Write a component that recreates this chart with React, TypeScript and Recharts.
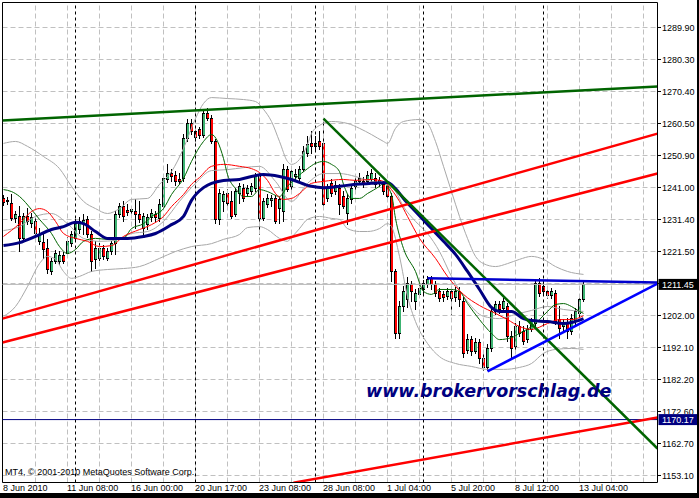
import React from 'react';
import { ComposedChart, Bar, Line, XAxis, YAxis, CartesianGrid, ReferenceLine } from 'recharts';

// XAUUSD-style H4 bars, bar 0 = 8 Jun 2010
const OPEN = [
  1237.7, 1237.1, 1236.2, 1231.6, 1232.2, 1225.5, 1232.2, 1230.0, 1230.7, 1224.6,
  1224.2, 1222.4, 1215.4, 1218.4, 1218.4, 1220.3, 1220.9, 1223.9, 1225.5, 1228.2,
  1230.0, 1231.3, 1226.7, 1219.1, 1219.4, 1222.4, 1219.4, 1221.5, 1223.9, 1232.8,
  1235.2, 1234.0, 1233.7, 1233.7, 1232.8, 1228.5, 1229.7, 1231.9, 1232.8, 1231.6,
  1235.2, 1243.5, 1245.3, 1244.7, 1243.5, 1243.8, 1256.0, 1260.6, 1258.1, 1258.8,
  1256.9, 1263.6, 1262.1, 1255.1, 1231.3, 1236.8, 1239.2, 1236.8, 1232.8, 1239.2,
  1240.7, 1239.2, 1239.8, 1240.7, 1244.4, 1231.6, 1235.9, 1237.1, 1237.7, 1234.6,
  1233.7, 1246.5, 1241.4, 1244.4, 1243.8, 1246.5, 1251.4, 1254.5, 1253.6, 1255.1,
  1254.5, 1237.7, 1242.3, 1239.8, 1240.7, 1238.3, 1233.1, 1237.4, 1241.4, 1242.9,
  1242.9, 1242.9, 1243.5, 1243.8, 1242.3, 1242.0, 1241.4, 1238.3, 1215.4, 1196.5,
  1204.7, 1206.8, 1211.4, 1206.2, 1208.4, 1209.9, 1211.4, 1213.3, 1211.4, 1209.3,
  1208.4, 1207.8, 1209.3, 1207.5, 1209.3, 1206.2, 1191.3, 1194.6, 1191.0, 1193.7,
  1188.8, 1186.1, 1191.9, 1203.2, 1205.3, 1204.1, 1204.7, 1195.5, 1192.5, 1198.6,
  1197.1, 1194.6, 1197.7, 1199.5, 1211.7, 1210.8, 1209.3, 1208.1, 1208.7, 1200.7,
  1198.6, 1199.5, 1197.1, 1200.1, 1202.6, 1206.8,
];
const HIGH = [
  1238.6, 1238.0, 1238.9, 1233.7, 1235.2, 1233.1, 1234.6, 1233.1, 1232.2, 1228.5,
  1226.7, 1225.2, 1219.4, 1221.8, 1221.5, 1221.2, 1225.8, 1227.6, 1231.3, 1231.9,
  1232.8, 1232.2, 1227.6, 1224.6, 1223.9, 1223.3, 1222.4, 1224.6, 1233.7, 1236.2,
  1236.8, 1235.9, 1235.2, 1237.4, 1236.8, 1233.1, 1232.8, 1234.3, 1233.7, 1237.4,
  1245.0, 1248.1, 1246.5, 1245.9, 1245.3, 1257.2, 1261.8, 1261.8, 1259.4, 1259.4,
  1264.9, 1265.2, 1263.0, 1255.7, 1240.4, 1239.8, 1240.4, 1239.8, 1240.7, 1242.3,
  1242.0, 1241.7, 1242.3, 1245.3, 1245.3, 1237.7, 1238.9, 1238.6, 1238.6, 1238.0,
  1248.1, 1247.5, 1247.5, 1246.5, 1247.5, 1253.6, 1256.6, 1258.1, 1256.6, 1258.1,
  1262.1, 1242.0, 1243.5, 1242.9, 1242.0, 1239.8, 1238.9, 1241.7, 1243.8, 1245.3,
  1244.1, 1245.9, 1246.5, 1245.3, 1244.1, 1242.9, 1242.3, 1239.2, 1216.0, 1206.2,
  1210.8, 1213.6, 1212.3, 1209.9, 1211.4, 1212.6, 1213.9, 1213.9, 1212.3, 1210.2,
  1209.3, 1210.2, 1210.2, 1210.5, 1210.5, 1207.5, 1196.2, 1195.5, 1194.9, 1194.6,
  1190.4, 1193.1, 1204.7, 1206.2, 1206.2, 1207.2, 1205.6, 1197.1, 1199.5, 1200.1,
  1198.6, 1198.9, 1201.0, 1212.9, 1213.3, 1212.3, 1210.5, 1210.2, 1209.6, 1204.7,
  1200.7, 1201.0, 1202.3, 1204.1, 1207.8, 1212.3,
];
const LOW = [
  1235.5, 1235.9, 1231.0, 1230.4, 1221.5, 1224.6, 1229.7, 1228.8, 1225.2, 1223.6,
  1219.4, 1214.8, 1214.5, 1217.8, 1217.5, 1217.8, 1220.0, 1223.0, 1224.6, 1227.0,
  1226.7, 1225.8, 1215.4, 1216.3, 1218.8, 1219.1, 1218.8, 1220.6, 1220.6, 1231.9,
  1230.7, 1232.5, 1232.8, 1228.5, 1230.4, 1226.1, 1228.2, 1230.7, 1230.7, 1230.7,
  1234.6, 1242.6, 1242.9, 1241.7, 1242.3, 1242.9, 1255.1, 1257.2, 1255.1, 1256.0,
  1256.3, 1261.5, 1254.5, 1230.0, 1229.7, 1233.7, 1234.6, 1231.6, 1232.2, 1236.2,
  1236.8, 1238.3, 1238.9, 1239.8, 1226.7, 1231.0, 1234.9, 1235.2, 1230.0, 1230.0,
  1230.7, 1239.8, 1239.8, 1242.9, 1242.9, 1245.9, 1250.5, 1251.4, 1252.6, 1252.6,
  1234.6, 1236.8, 1238.3, 1238.9, 1232.8, 1234.6, 1229.7, 1236.2, 1240.4, 1242.0,
  1241.0, 1242.0, 1242.9, 1241.0, 1241.4, 1238.9, 1237.7, 1212.3, 1194.9, 1194.9,
  1203.2, 1204.4, 1206.2, 1203.8, 1207.5, 1208.7, 1210.5, 1209.9, 1207.8, 1206.2,
  1206.2, 1206.8, 1202.3, 1206.2, 1204.7, 1189.1, 1190.4, 1189.7, 1190.4, 1187.3,
  1185.2, 1185.2, 1191.0, 1202.3, 1202.6, 1203.2, 1194.0, 1188.8, 1191.6, 1195.5,
  1193.1, 1193.7, 1197.1, 1198.3, 1207.8, 1208.4, 1207.2, 1207.2, 1199.2, 1194.9,
  1197.1, 1194.9, 1196.2, 1198.6, 1201.3, 1206.2,
];
const CLOSE = [
  1236.5, 1236.8, 1231.6, 1232.8, 1225.5, 1232.2, 1230.7, 1231.9, 1227.0, 1226.7,
  1222.1, 1216.0, 1218.4, 1220.9, 1220.3, 1218.4, 1224.6, 1226.7, 1230.0, 1230.7,
  1231.0, 1226.7, 1218.4, 1222.4, 1222.4, 1220.0, 1221.5, 1223.9, 1232.8, 1235.2,
  1232.2, 1233.4, 1234.3, 1232.8, 1231.3, 1232.2, 1231.9, 1233.1, 1231.9, 1235.9,
  1243.8, 1245.3, 1244.4, 1242.9, 1242.9, 1256.0, 1260.6, 1258.1, 1256.3, 1256.9,
  1263.6, 1262.1, 1255.1, 1231.3, 1239.2, 1238.9, 1236.2, 1232.2, 1239.8, 1241.4,
  1237.7, 1240.7, 1241.4, 1244.4, 1231.6, 1236.8, 1237.7, 1237.7, 1230.7, 1237.4,
  1246.5, 1240.4, 1245.9, 1245.0, 1246.5, 1252.0, 1254.2, 1253.6, 1254.5, 1253.6,
  1235.9, 1240.7, 1239.2, 1241.7, 1235.9, 1235.2, 1237.7, 1240.7, 1242.9, 1243.8,
  1242.0, 1244.7, 1245.3, 1242.0, 1243.2, 1239.8, 1238.3, 1215.4, 1196.5, 1204.7,
  1209.3, 1211.7, 1209.3, 1208.7, 1210.2, 1211.7, 1212.9, 1211.4, 1208.7, 1207.2,
  1207.5, 1209.3, 1207.2, 1209.3, 1206.8, 1190.4, 1194.6, 1191.0, 1193.7, 1188.8,
  1186.1, 1191.9, 1203.2, 1205.3, 1203.8, 1206.2, 1195.5, 1191.9, 1198.6, 1196.5,
  1194.0, 1197.7, 1200.1, 1211.7, 1208.7, 1209.3, 1208.1, 1209.3, 1200.1, 1198.0,
  1199.5, 1197.1, 1201.0, 1203.2, 1206.8, 1211.4,
];

// indicator readings [bar, price]
const MA_FAST: [number, number][] = [
  [0, 1240.4], [2, 1239.8], [4, 1238.3], [7, 1234.3], [9, 1231.3], [12, 1227.0], [14, 1223.0],
  [16, 1220.9], [18, 1222.1], [20, 1224.6], [23, 1225.5], [26, 1225.2], [30, 1225.5], [32, 1228.5],
  [35, 1230.0], [37, 1232.2], [40, 1234.6], [42, 1238.9], [45, 1243.8], [47, 1249.0], [50, 1255.1],
  [52, 1257.2], [55, 1249.9], [56, 1245.0], [58, 1240.7], [60, 1238.3], [62, 1238.3], [64, 1240.4],
  [66, 1239.8], [69, 1238.3], [71, 1241.4], [73, 1243.8], [76, 1246.8], [78, 1248.4], [80, 1249.0],
  [82, 1248.1], [84, 1245.9], [85, 1242.0], [87, 1237.7], [89, 1237.7], [91, 1239.2], [94, 1241.4],
  [95, 1242.3], [97, 1238.9], [98, 1231.6], [100, 1222.4], [103, 1215.4], [105, 1209.3], [107, 1208.4],
  [109, 1209.9], [112, 1209.9], [114, 1209.3], [116, 1205.6], [119, 1200.7], [122, 1196.5], [124, 1194.6],
  [127, 1195.2], [129, 1196.5], [132, 1198.6], [134, 1200.7], [136, 1203.2], [138, 1205.3], [140, 1205.6],
  [142, 1204.7], [144, 1203.2], [145, 1202.6],
];
const MA_MID: [number, number][] = [
  [0, 1226.1], [4, 1230.0], [7, 1233.7], [9, 1234.6], [11, 1233.7], [13, 1230.7], [15, 1227.0],
  [18, 1225.5], [21, 1224.6], [24, 1223.0], [27, 1223.3], [30, 1226.1], [34, 1228.2], [37, 1229.7],
  [40, 1232.2], [42, 1235.2], [45, 1238.9], [47, 1242.0], [49, 1244.1], [52, 1247.5], [55, 1248.1],
  [59, 1247.5], [62, 1246.8], [64, 1245.6], [66, 1243.2], [68, 1239.2], [70, 1237.4], [72, 1237.7],
  [74, 1239.2], [77, 1242.3], [80, 1242.9], [85, 1243.5], [88, 1243.2], [92, 1243.5], [95, 1242.9],
  [97, 1240.4], [99, 1236.8], [101, 1232.2], [104, 1225.5], [108, 1219.4], [111, 1213.9], [115, 1208.4],
  [119, 1205.0], [123, 1202.6], [126, 1200.7], [129, 1198.6], [132, 1197.7], [136, 1199.5], [139, 1200.7],
  [142, 1200.7], [145, 1201.9],
];
const MA_SLOW: [number, number][] = [
  [0, 1223.3], [4, 1224.2], [8, 1226.1], [12, 1228.2], [15, 1229.1], [18, 1230.4], [20, 1230.0],
  [23, 1227.6], [26, 1225.5], [31, 1225.5], [35, 1226.1], [38, 1227.0], [42, 1229.7], [45, 1232.2],
  [47, 1237.1], [50, 1241.0], [52, 1242.3], [55, 1243.2], [59, 1243.5], [62, 1244.4], [65, 1245.0],
  [69, 1244.4], [72, 1243.5], [77, 1241.4], [80, 1241.0], [84, 1241.4], [88, 1242.0], [92, 1242.3],
  [96, 1242.6], [98, 1240.7], [100, 1237.7], [103, 1233.7], [107, 1228.5], [110, 1224.6], [113, 1220.6],
  [116, 1215.4], [119, 1209.9], [122, 1204.4], [124, 1203.2], [127, 1203.2], [130, 1201.0], [132, 1200.4],
  [136, 1200.1], [140, 1199.5], [142, 1199.8], [145, 1201.0],
];
const BB_UP: [number, number][] = [
  [0, 1254.5], [3, 1255.1], [6, 1253.6], [10, 1250.5], [14, 1246.8], [17, 1241.4], [20, 1236.8],
  [23, 1234.6], [26, 1233.1], [29, 1234.6], [32, 1237.4], [36, 1237.7], [39, 1242.0], [42, 1245.9],
  [45, 1253.0], [48, 1262.1], [50, 1266.7], [52, 1268.5], [56, 1268.2], [60, 1267.9], [63, 1267.3],
  [65, 1264.9], [67, 1261.2], [69, 1255.1], [71, 1249.0], [72, 1248.1], [74, 1249.6], [76, 1254.2],
  [77, 1257.5], [79, 1260.0], [82, 1261.2], [86, 1260.6], [89, 1259.1], [92, 1257.2], [95, 1255.1],
  [96, 1254.5], [98, 1259.1], [100, 1261.2], [104, 1261.8], [106, 1260.6], [108, 1255.1], [110, 1247.5],
  [112, 1239.8], [114, 1232.2], [116, 1225.5], [118, 1220.0], [120, 1217.8], [123, 1216.9], [126, 1217.8],
  [129, 1219.1], [132, 1220.0], [135, 1219.1], [138, 1216.9], [141, 1215.4], [145, 1214.5],
];
const BB_MID: [number, number][] = [
  [0, 1227.9], [4, 1229.1], [8, 1232.2], [12, 1233.1], [16, 1230.0], [20, 1225.5], [24, 1224.6],
  [28, 1224.9], [32, 1227.0], [36, 1227.6], [40, 1230.7], [44, 1236.8], [48, 1242.3], [52, 1246.2],
  [56, 1246.5], [60, 1247.1], [64, 1247.5], [68, 1242.9], [72, 1236.8], [76, 1242.3], [80, 1245.3],
  [84, 1245.3], [88, 1244.4], [92, 1242.9], [96, 1242.3], [98, 1239.8], [100, 1235.2], [103, 1230.7],
  [106, 1227.0], [109, 1221.5], [112, 1213.9], [116, 1206.2], [120, 1201.7], [124, 1201.0], [128, 1202.3],
  [132, 1203.5], [136, 1204.7], [140, 1203.8], [145, 1203.2],
];
const BB_LOW: [number, number][] = [
  [0, 1201.7], [3, 1204.7], [6, 1210.8], [9, 1217.8], [11, 1220.0], [13, 1219.1], [15, 1215.4],
  [17, 1213.3], [19, 1213.9], [22, 1215.4], [26, 1216.0], [30, 1216.3], [34, 1216.9], [39, 1219.4],
  [43, 1221.5], [47, 1223.0], [52, 1223.9], [55, 1225.2], [59, 1226.7], [61, 1228.8], [64, 1229.1],
  [66, 1228.2], [69, 1225.5], [71, 1224.6], [72, 1225.8], [74, 1228.5], [76, 1231.3], [79, 1232.2],
  [82, 1231.6], [84, 1231.3], [86, 1228.5], [89, 1227.6], [91, 1227.6], [94, 1228.5], [96, 1230.0],
  [97, 1229.1], [99, 1220.0], [101, 1207.8], [103, 1200.1], [106, 1193.4], [109, 1189.4], [113, 1187.3],
  [117, 1186.4], [121, 1185.5], [125, 1185.5], [129, 1186.1], [132, 1187.3], [135, 1190.4], [138, 1191.6],
  [142, 1191.9], [145, 1191.6],
];

// drawn objects, [bar, price] end points
const TREND_TOP: [number, number][] = [[-0.25, 1261.5], [163.5, 1271.9]];
const CHANNEL_HI: [number, number][] = [[-0.25, 1201.0], [163.5, 1257.5]];
const CHANNEL_LO: [number, number][] = [[-0.25, 1193.7], [163.5, 1245.3]];
const RED_BOTTOM: [number, number][] = [[72.5, 1150.9], [163.5, 1170.8]];
const TREND_DOWN: [number, number][] = [[80, 1262.1], [163.5, 1161.3]];
const TRI_TOP: [number, number][] = [[106, 1213.3], [163.5, 1212.0]];
const TRI_LOW: [number, number][] = [[121, 1184.9], [163.5, 1211.7]];
const BID = 1211.45;
const HLINE = 1170.17;

const X_LABELS = ['8 Jun 2010', '11 Jun 08:00', '16 Jun 00:00', '20 Jun 17:00', '23 Jun 08:00',
  '28 Jun 08:00', '1 Jul 04:00', '5 Jul 20:00', '8 Jul 12:00', '13 Jul 04:00'];
const X_LABEL_BARS = [0, 16, 32, 48, 64, 80, 96, 112, 128, 144];
const X_GRID_BARS = [8, 16, 24, 32, 40, 48, 56, 64, 72, 80, 88, 96, 104, 112, 120, 128, 136, 144, 152, 160];
const SEPARATOR_BARS = [18, 48, 78, 105, 135];
const Y_LABELS = ['1289.90', '1280.30', '1270.40', '1260.50', '1250.90', '1241.00', '1231.40', '1221.50',
  '1211.60', '1202.00', '1192.10', '1182.20', '1172.60', '1162.70', '1153.10'];

const X_MIN = -0.25;
const X_MAX = 163.5;
const Y_MIN = 1150.96;
const Y_MAX = 1297.53;
const Y_TICKS = Y_LABELS.map((_, k) => 1289.9 - (k * (1289.9 - 1153.1)) / (Y_LABELS.length - 1));
const PLOT_H = 480;
const PX_PER_UNIT = PLOT_H / (Y_MAX - Y_MIN);
const TAG_PRICES = [BID, HLINE];

const FONT = '"Liberation Sans", Arial, sans-serif';
const BULL = '#3cb371';
const BEAR = '#ff0000';

const rows: any[] = OPEN.map((o, i) => ({ i, open: o, high: HIGH[i], low: LOW[i], close: CLOSE[i] }));
const attach = (pts: [number, number][], key: string) => pts.forEach(([i, v]) => { rows[i][key] = v; });
attach(MA_FAST, 'fast');
attach(MA_MID, 'mid');
attach(MA_SLOW, 'slow');
attach(BB_UP, 'bbUp');
attach(BB_MID, 'bbMid');
attach(BB_LOW, 'bbLow');

function Candle(props: any) {
  const { x, y, width, height, payload } = props;
  if (!payload || height == null || isNaN(y)) return null;
  const top = Math.min(y, y + height);
  const h = Math.abs(height);
  const range = payload.high - payload.low;
  const k = range > 0 ? h / range : 0;
  const py = (v: number) => top + (payload.high - v) * k;
  const cx = Math.round(x + width / 2 - 0.5) + 0.5;
  const yo = py(payload.open);
  const yc = py(payload.close);
  const bTop = Math.floor(Math.min(yo, yc));
  const bBot = Math.max(Math.floor(Math.max(yo, yc)) + 1, bTop + 1);
  const wTop = Math.floor(top);
  const wBot = Math.floor(top + h) + 1;
  const up = payload.close >= payload.open;
  return (
    <g shapeRendering="crispEdges">
      <rect x={cx - 0.5} y={wTop} width={1} height={wBot - wTop} fill="#000" />
      <rect x={cx - 1.5} y={bTop} width={3} height={bBot - bTop} fill="#000" />
      {bBot - bTop > 2 && (
        <rect x={cx - 0.5} y={bTop + 1} width={2} height={bBot - bTop - 2} fill={up ? BULL : BEAR} />
      )}
    </g>
  );
}

function XTick(props: any) {
  const { x, y, payload } = props;
  const k = X_LABEL_BARS.indexOf(payload.value);
  if (k < 0) return null;
  return (
    <text x={x - 0.5} y={y + 8.5} fontSize={9} fontFamily={FONT} fill="#000" textAnchor="start">
      {X_LABELS[k]}
    </text>
  );
}

// axis labels sit under the price tags, so cut them where a tag covers them
function YTick(props: any) {
  const { x, y, index, payload } = props;
  let clipTop = y - 10;
  let clipBot = y + 10;
  TAG_PRICES.forEach((p) => {
    const ty = y + (payload.value - p) * PX_PER_UNIT;
    if (Math.abs(ty - y) < 11) {
      if (ty >= y) clipBot = Math.min(clipBot, ty - 5.5);
      else clipTop = Math.max(clipTop, ty + 5.5);
    }
  });
  const id = 'yclip' + index;
  return (
    <g>
      <line x1={x} x2={x + 3.5} y1={y} y2={y} stroke="#000" />
      <clipPath id={id}>
        <rect x={x} y={clipTop} width={40} height={Math.max(0, clipBot - clipTop)} />
      </clipPath>
      <text x={x + 4.5} y={y + 3.3} fontSize={9} fontFamily={FONT} fill="#000" clipPath={`url(#${id})`}>
        {Y_LABELS[index]}
      </text>
    </g>
  );
}

function PriceTag(props: any) {
  const { viewBox, text, bg } = props;
  if (!viewBox) return null;
  const x = viewBox.x + viewBox.width;
  const y = viewBox.y;
  return (
    <g>
      <rect x={x + 1} y={y - 5.5} width={40} height={11} fill={bg} />
      <text x={x + 4.5} y={y + 3.3} fontSize={9} fontFamily={FONT} fill="#fff">{text}</text>
    </g>
  );
}

const seg = (p: [number, number][]) => p.map(([x, y]) => ({ x, y }));

export default function App() {
  return (
    <div style={{ position: 'relative', width: 699, height: 498, background: '#000', overflow: 'hidden' }}>
      <style>{'body{margin:0}'}</style>
      <div style={{ position: 'absolute', left: 0, top: 0, width: 697, height: 493, background: '#fff' }}>
        <ComposedChart width={697} height={493} data={rows} margin={{ top: 2.5, right: 0, bottom: 0, left: 2.5 }}>
          <CartesianGrid stroke="#c0c0c0" strokeDasharray="5 3" vertical={false} />
          <XAxis
            type="number"
            dataKey="i"
            domain={[X_MIN, X_MAX]}
            ticks={X_LABEL_BARS}
            interval={0}
            allowDataOverflow
            height={10.5}
            tickSize={0}
            tickMargin={0}
            tickLine={false}
            axisLine={{ stroke: '#000' }}
            tick={<XTick />}
          />
          <YAxis
            type="number"
            orientation="right"
            domain={[Y_MIN, Y_MAX]}
            ticks={Y_TICKS}
            interval={0}
            allowDataOverflow
            width={39.5}
            tickSize={0}
            tickMargin={0}
            tickLine={false}
            axisLine={{ stroke: '#000' }}
            tick={<YTick />}
          />
          {X_GRID_BARS.map((b) => (
            <ReferenceLine key={'grid' + b} x={b} stroke="#c0c0c0" strokeDasharray="5 3" />
          ))}
          <ReferenceLine x={X_MIN} stroke="#000" ifOverflow="visible" />
          <ReferenceLine y={Y_MAX} stroke="#000" ifOverflow="visible" />
          {SEPARATOR_BARS.map((b) => (
            <ReferenceLine key={'sep' + b} x={b} stroke="#000" strokeDasharray="3 3" />
          ))}
          <Bar dataKey={(d: any) => [d.low, d.high]} barSize={3} shape={<Candle />} isAnimationActive={false} />
          <Line dataKey="bbUp" stroke="#a8a8a8" strokeWidth={1} dot={false} activeDot={false} connectNulls type="monotone" isAnimationActive={false} />
          <Line dataKey="bbMid" stroke="#a8a8a8" strokeWidth={1} dot={false} activeDot={false} connectNulls type="monotone" isAnimationActive={false} />
          <Line dataKey="bbLow" stroke="#a8a8a8" strokeWidth={1} dot={false} activeDot={false} connectNulls type="monotone" isAnimationActive={false} />
          <Line dataKey="fast" stroke="#006400" strokeWidth={1} dot={false} activeDot={false} connectNulls type="monotone" isAnimationActive={false} />
          <Line dataKey="mid" stroke="#ff0000" strokeWidth={1} dot={false} activeDot={false} connectNulls type="monotone" isAnimationActive={false} />
          <Line dataKey="slow" stroke="#000080" strokeWidth={3} dot={false} activeDot={false} connectNulls type="monotone" isAnimationActive={false} />
          <ReferenceLine y={BID} stroke="#b8b8b8" ifOverflow="visible" label={<PriceTag text="1211.45" bg="#000" />} />
          <ReferenceLine y={HLINE} stroke="#000080" ifOverflow="visible" label={<PriceTag text="1170.17" bg="#000080" />} />
          <ReferenceLine segment={seg(TREND_TOP)} stroke="#006400" strokeWidth={2.5} ifOverflow="hidden" />
          <ReferenceLine segment={seg(CHANNEL_HI)} stroke="#ff0000" strokeWidth={2.5} ifOverflow="hidden" />
          <ReferenceLine segment={seg(CHANNEL_LO)} stroke="#ff0000" strokeWidth={2.5} ifOverflow="hidden" />
          <ReferenceLine segment={seg(RED_BOTTOM)} stroke="#ff0000" strokeWidth={2.5} ifOverflow="hidden" />
          <ReferenceLine segment={seg(TREND_DOWN)} stroke="#006400" strokeWidth={2.5} ifOverflow="hidden" />
          <ReferenceLine segment={seg(TRI_TOP)} stroke="#0000cd" strokeWidth={2.5} ifOverflow="hidden" />
          <ReferenceLine segment={seg(TRI_LOW)} stroke="#0000ff" strokeWidth={2.5} ifOverflow="hidden" />
        </ComposedChart>
      </div>
      <svg width={699} height={498} style={{ position: 'absolute', left: 0, top: 0, pointerEvents: 'none' }}>
        <text x={5} y={475} fontSize={9} fontFamily={FONT} fill="#000">MT4, © 2001-2010 MetaQuotes Software Corp.</text>
        <text x={366} y={397} fontSize={17.5} fontFamily='"DejaVu Sans", sans-serif' fontWeight="bold" fontStyle="italic" fill="#000080">
          www.brokervorschlag.de
        </text>
      </svg>
    </div>
  );
}
